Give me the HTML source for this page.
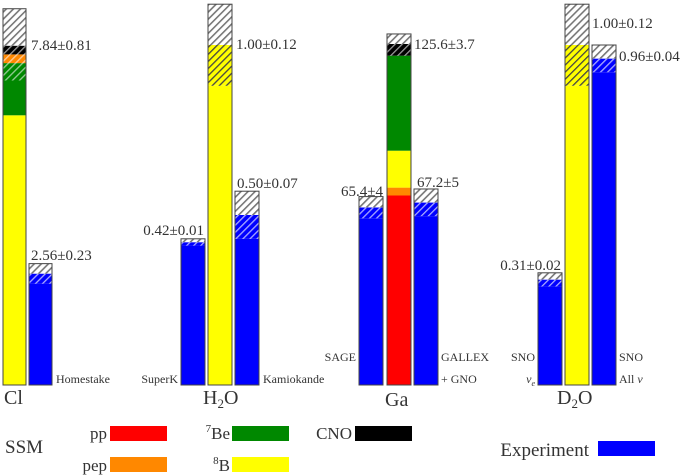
<!DOCTYPE html>
<html><head><meta charset="utf-8"><style>
body{margin:0;background:#fff}
svg{display:block;font-family:"Liberation Serif",serif}
svg text{font-family:"Liberation Serif",serif}
</style></head><body>
<svg id="c" width="685" height="475" font-family="Liberation Serif, serif">
<defs>
<pattern id="h-grey" patternUnits="userSpaceOnUse" width="5" height="5" patternTransform="rotate(45)"><rect width="5" height="5" fill="#fff"/><rect width="1.6" height="5" fill="#777"/></pattern>
<pattern id="h-blue" patternUnits="userSpaceOnUse" width="5" height="5" patternTransform="rotate(45)"><rect width="5" height="5" fill="#00f"/><rect width="1.3" height="5" fill="#aaf"/></pattern>
<pattern id="h-yellow" patternUnits="userSpaceOnUse" width="5" height="5" patternTransform="rotate(45)"><rect width="5" height="5" fill="#ff0"/><rect width="1.3" height="5" fill="#444"/></pattern>
<pattern id="h-green" patternUnits="userSpaceOnUse" width="5" height="5" patternTransform="rotate(45)"><rect width="5" height="5" fill="#080"/><rect width="1.3" height="5" fill="#9c9"/></pattern>
<pattern id="h-orange" patternUnits="userSpaceOnUse" width="5" height="5" patternTransform="rotate(45)"><rect width="5" height="5" fill="#f80"/><rect width="1.3" height="5" fill="#fc9"/></pattern>
<pattern id="h-black" patternUnits="userSpaceOnUse" width="5" height="5" patternTransform="rotate(45)"><rect width="5" height="5" fill="#000"/><rect width="1.3" height="5" fill="#999"/></pattern>
</defs>
<g id="bars"></g>
<g font-size="20" fill="#333">
<text x="4" y="404">Cl</text>
<text x="203" y="404">H<tspan font-size="13" dy="4">2</tspan><tspan dy="-4">O</tspan></text>
<text x="385" y="406">Ga</text>
<text x="557" y="404">D<tspan font-size="13" dy="4">2</tspan><tspan dy="-4">O</tspan></text>
</g>
<g font-size="12" fill="#333">
<text x="56" y="383">Homestake</text>
<text x="178" y="383" text-anchor="end">SuperK</text>
<text x="263" y="383">Kamiokande</text>
<text x="356" y="361" text-anchor="end">SAGE</text>
<text x="441" y="361">GALLEX</text>
<text x="441" y="383">+ GNO</text>
<text x="535" y="361" text-anchor="end">SNO</text>
<text x="535" y="383" text-anchor="end" font-style="italic">ν<tspan font-size="8" dy="3">e</tspan></text>
<text x="619" y="361">SNO</text>
<text x="619" y="383">All <tspan font-style="italic">ν</tspan></text>
</g>
<g font-size="15" fill="#333">
<text x="31" y="50">7.84±0.81</text>
<text x="31" y="260">2.56±0.23</text>
<text x="204" y="235" text-anchor="end">0.42±0.01</text>
<text x="236" y="49">1.00±0.12</text>
<text x="237" y="188">0.50±0.07</text>
<text x="383" y="196" text-anchor="end">65.4±4</text>
<text x="414" y="49">125.6±3.7</text>
<text x="417" y="187">67.2±5</text>
<text x="561" y="270" text-anchor="end">0.31±0.02</text>
<text x="592" y="28">1.00±0.12</text>
<text x="619" y="61">0.96±0.04</text>
</g>
<g fill="#333">
<text x="5" y="453" font-size="19">SSM</text>
<text x="107" y="439" font-size="17" text-anchor="end">pp</text>
<rect x="110" y="426" width="57" height="15" fill="#f00"/>
<text x="107" y="471" font-size="17" text-anchor="end">pep</text>
<rect x="110" y="457" width="57" height="15" fill="#f80"/>
<text x="230" y="439" font-size="17" text-anchor="end"><tspan font-size="11" dy="-7">7</tspan><tspan dy="7">Be</tspan></text>
<rect x="232" y="426" width="57" height="15" fill="#080"/>
<text x="230" y="471" font-size="17" text-anchor="end"><tspan font-size="11" dy="-7">8</tspan><tspan dy="7">B</tspan></text>
<rect x="232" y="457" width="57" height="15" fill="#ff0"/>
<text x="352" y="439" font-size="17" text-anchor="end">CNO</text>
<rect x="355" y="426" width="57" height="15" fill="#000"/>
<text x="589" y="456" font-size="19" text-anchor="end">Experiment</text>
<rect x="598" y="441" width="57" height="15" fill="#00f"/>
</g>
</svg>
<script>
// SSM / experiment segment values (bottom to top), per bar
const clSSM = [6.2, 0.8, 0.4, 0.2, 0.2, 0.85];
const clSSMStyle = ["#ff0", "#080", "url(#h-green)", "url(#h-orange)", "url(#h-black)", "url(#h-grey)"];
const homestake = [2.33, 0.23, 0.23];
const superK = [0.41, 0.01, 0.01];
const h2oSSM = [0.88, 0.12, 0.12];
const kamiokande = [0.43, 0.07, 0.07];
const sage = [61.4, 4, 4];
const gaSSM = [69.8, 2.9, 13.6, 35.0, 4.3, 3.7];
const gaSSMStyle = ["#f00", "#f80", "#ff0", "#080", "url(#h-black)", "url(#h-grey)"];
const gallex = [62.2, 5, 5];
const snoNue = [0.29, 0.02, 0.02];
const d2oSSM = [0.88, 0.12, 0.12];
const snoAll = [0.92, 0.04, 0.04];
const expStyle = ["#00f", "url(#h-blue)", "url(#h-grey)"];
const b8Style = ["#ff0", "url(#h-yellow)", "url(#h-grey)"];

const base = 385;
const yCl = v => base - v * 43.5;
const yH2O = v => base - v * 340;
const yGa = v => base - v * 2.715;
const g = document.getElementById('bars');
const NS = 'http://www.w3.org/2000/svg';
function bar(name, x, w, vals, styles, y) {
  const grp = document.createElementNS(NS, 'g');
  
  
  let cum = 0;
  vals.forEach((v, i) => {
    const r = document.createElementNS(NS, 'rect');
    const y0 = y(cum), y1 = y(cum + v);
    r.setAttribute('x', x); r.setAttribute('y', y1);
    r.setAttribute('width', w); r.setAttribute('height', Math.max(0, y0 - y1));
    r.setAttribute('fill', styles[i]);
    
    
    grp.appendChild(r);
    cum += v;
  });
  const o = document.createElementNS(NS, 'rect');
  o.setAttribute('x', x); o.setAttribute('y', y(cum));
  o.setAttribute('width', w); o.setAttribute('height', base - y(cum));
  o.setAttribute('fill', 'none'); o.setAttribute('stroke', '#444'); o.setAttribute('stroke-width', '1');
  
  
  grp.appendChild(o);
  g.appendChild(grp);
}
bar('cl-ssm-bar', 3, 23, clSSM, clSSMStyle, yCl);
bar('homestake-bar', 29, 23, homestake, expStyle, yCl);
bar('superk-bar', 181, 24, superK, expStyle, yH2O);
bar('h2o-ssm-bar', 208, 24, h2oSSM, b8Style, yH2O);
bar('kamiokande-bar', 235, 24, kamiokande, expStyle, yH2O);
bar('sage-bar', 359, 24, sage, expStyle, yGa);
bar('ga-ssm-bar', 387, 24, gaSSM, gaSSMStyle, yGa);
bar('gallex-bar', 414, 24, gallex, expStyle, yGa);
bar('sno-nue-bar', 538, 24, snoNue, expStyle, yH2O);
bar('d2o-ssm-bar', 565, 24, d2oSSM, b8Style, yH2O);
bar('sno-all-bar', 592, 24, snoAll, expStyle, yH2O);
</script>
</body></html>
